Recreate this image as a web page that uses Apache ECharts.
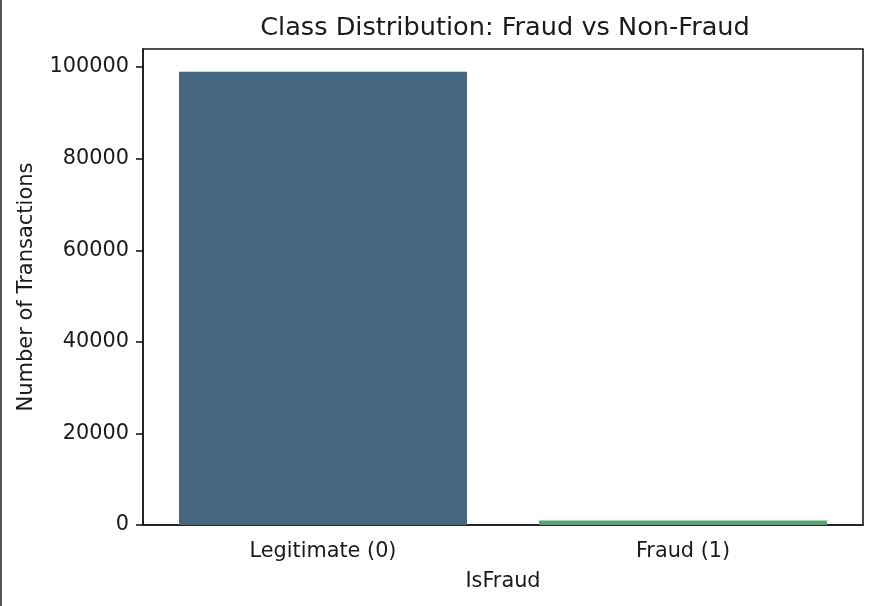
<!DOCTYPE html>
<html>
<head>
<meta charset="utf-8">
<script src="https://cdn.jsdelivr.net/npm/echarts@6/dist/echarts.min.js"></script>
<style>
  html, body { margin: 0; padding: 0; background: #fff; }
  #container { width: 876px; height: 606px; }
</style>
</head>
<body>
<div id="container"></div>
<script>
// data
var categories = ['Legitimate (0)', 'Fraud (1)'];
var counts = [99000, 1000];
var barColors = ['#46657f', '#55a774'];
var yTicks = [0, 20000, 40000, 60000, 80000, 100000];

var font = 'DejaVu Sans';
var dom = document.getElementById('container');
var myChart = echarts.init(dom);

var option = {
    animation: false,
    textStyle: { fontFamily: font },
    title: {
        text: 'Class Distribution: Fraud vs Non-Fraud',
        left: 500,
        textAlign: 'center',
        top: 10,
        textStyle: { fontFamily: font, fontSize: 25.6, fontWeight: 'normal', color: '#1a1a1a' }
    },
    // grey strip on the left edge of the screenshot
    graphic: [{
        type: 'rect',
        shape: { x: 0, y: 0, width: 2, height: 606 },
        style: { fill: '#555' }
    }],
    grid: {
        left: 143, right: 13, top: 49, bottom: 81,
        show: true, borderColor: '#1a1a1a', borderWidth: 1.6, backgroundColor: 'transparent'
    },
    xAxis: {
        type: 'category',
        data: categories,
        name: 'IsFraud',
        nameLocation: 'middle',
        nameGap: 46,
        nameTextStyle: { fontFamily: font, fontSize: 20.8, color: '#1a1a1a' },
        axisLine: { lineStyle: { color: '#1a1a1a', width: 1.6 } },
        axisTick: { alignWithLabel: true, length: 7, lineStyle: { color: '#1a1a1a', width: 1.6 } },
        axisLabel: { fontFamily: font, fontSize: 20.8, color: '#1a1a1a', margin: 16 }
    },
    yAxis: {
        type: 'value',
        min: 0,
        max: 103950,
        interval: 20000,
        name: 'Number of Transactions',
        nameLocation: 'middle',
        nameGap: 106,
        nameTextStyle: { fontFamily: font, fontSize: 21, color: '#1a1a1a' },
        splitLine: { show: false },
        axisLine: { show: true, lineStyle: { color: '#1a1a1a', width: 1.6 } },
        axisTick: { show: true, length: 7, lineStyle: { color: '#1a1a1a', width: 1.6 } },
        axisLabel: {
            fontFamily: font, fontSize: 20.8, color: '#1a1a1a', margin: 14,
            showMaxLabel: false,
            formatter: function (v) { return yTicks.indexOf(v) >= 0 ? String(v) : ''; }
        }
    },
    series: [{
        type: 'bar',
        barWidth: '80%',
        data: counts.map(function (v, i) {
            return { value: v, itemStyle: { color: barColors[i] } };
        })
    }]
};

if (option && typeof option === "object") {
    myChart.setOption(option, true);
}
</script>
</body>
</html>
